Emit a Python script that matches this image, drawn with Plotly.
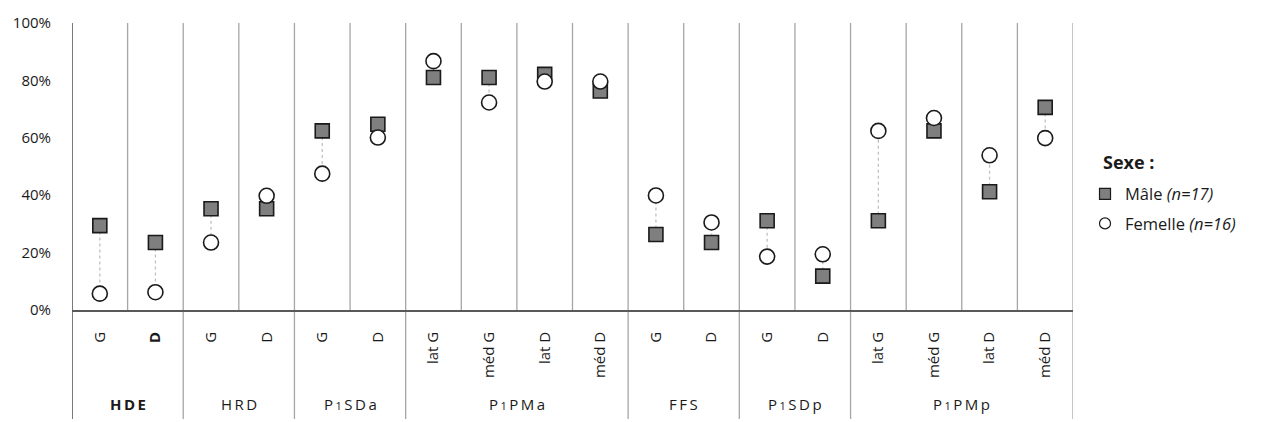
import plotly.graph_objects as go

# ---- data ----
groups = ["HDE", "HDE", "HRD", "HRD", "P1SDa", "P1SDa",
          "P1PMa", "P1PMa", "P1PMa", "P1PMa",
          "FFS", "FFS", "P1SDp", "P1SDp",
          "P1PMp", "P1PMp", "P1PMp", "P1PMp"]
sub_labels = ["G", "<b>D</b>", "G", "D", "G", "D",
              "lat G", "méd G", "lat D", "méd D",
              "G", "D", "G", "D",
              "lat G", "méd G", "lat D", "méd D"]
group_names = ["HDE", "HRD", "P1SDa", "P1PMa", "FFS", "P1SDp", "P1PMp"]
group_display = {
    "HDE": "<b>H\u2009D\u2009E</b>",
    "HRD": "H\u2009R\u2009D",
    "P1SDa": "P\u2009<span style='font-size:11px'>1</span>\u2009S\u2009D\u2009a",
    "P1PMa": "P\u2009<span style='font-size:11px'>1</span>\u2009P\u2009M\u2009a",
    "FFS": "F\u2009F\u2009S",
    "P1SDp": "P\u2009<span style='font-size:11px'>1</span>\u2009S\u2009D\u2009p",
    "P1PMp": "P\u2009<span style='font-size:11px'>1</span>\u2009P\u2009M\u2009p",
}
male = [29.4, 23.5, 35.3, 35.3, 62.4, 64.7,
        81.0, 81.0, 82.1, 76.3,
        26.3, 23.5, 31.1, 11.8,
        31.1, 62.4, 41.2, 70.6]
female = [5.7, 6.2, 23.5, 39.8, 47.5, 60.1,
          86.7, 72.3, 79.6, 79.6,
          39.9, 30.5, 18.6, 19.4,
          62.4, 66.9, 53.9, 59.9]
y_ticks = [0, 20, 40, 60, 80, 100]

# ---- figure ----
xs = list(range(len(sub_labels)))
AX = "#595959"
GRID = "#a6a6a6"
FONT = "Open Sans"
TXT = "#1a1a1a"

fig = go.Figure()

# dotted connectors
cx, cy = [], []
for i in xs:
    cx += [i, i, None]
    cy += [male[i], female[i], None]
fig.add_trace(go.Scatter(x=cx, y=cy, mode="lines", showlegend=False,
                         line=dict(color="#c0c0c0", width=1.3, dash="dot"),
                         hoverinfo="skip"))

fig.add_trace(go.Scatter(x=xs, y=male, mode="markers", showlegend=False,
                         marker=dict(symbol="square", size=14, color="#7f7f7f",
                                     line=dict(color=TXT, width=1.6))))
fig.add_trace(go.Scatter(x=xs, y=female, mode="markers", showlegend=False,
                         marker=dict(symbol="circle", size=15, color="white",
                                     line=dict(color=TXT, width=1.6))))

# legend entries
fig.add_trace(go.Scatter(x=[None], y=[None], mode="markers", name="Mâle <i>(n=17)</i>",
                         legendgroup="m",
                         marker=dict(symbol="square", size=11, color="#7f7f7f",
                                     line=dict(color=TXT, width=1.2))))
fig.add_trace(go.Scatter(x=[None], y=[None], mode="markers", name="Femelle <i>(n=16)</i>",
                         legendgroup="f",
                         marker=dict(symbol="circle", size=11, color="white",
                                     line=dict(color=TXT, width=1.2))))

shapes = []
n = len(xs)
bottom = -112 / 295
# column separators
for k in range(n + 1):
    xb = k - 0.5
    is_group_edge = (k == 0 or k == n or groups[k] != groups[k - 1])
    y0 = bottom if is_group_edge else 0
    color = AX if k == 0 else GRID
    shapes.append(dict(type="line", xref="x", yref="paper", x0=xb, x1=xb,
                       y0=y0, y1=1, line=dict(color=color, width=1.6 if k == 0 else 1.3),
                       layer="below"))

annotations = []
for g in group_names:
    idx = [i for i in xs if groups[i] == g]
    cxg = (idx[0] + idx[-1]) / 2
    annotations.append(dict(x=cxg, y=-97 / 295, xref="x", yref="paper",
                            text=group_display[g], showarrow=False,
                            font=dict(family=FONT, size=15, color=TXT),
                            yanchor="middle"))

annotations.append(dict(x=1.028, y=(310 - 158) / 295, xref="paper", yref="paper",
                        text="<b>Sexe :</b>", showarrow=False, xanchor="left",
                        yanchor="middle", font=dict(family=FONT, size=18, color=TXT)))

fig.update_layout(
    width=1263, height=422,
    margin=dict(l=72, r=190, t=15, b=112),
    plot_bgcolor="white", paper_bgcolor="white",
    font=dict(family=FONT, color=TXT),
    shapes=shapes, annotations=annotations,
    showlegend=True,
    legend=dict(x=1.012, y=(310 - 173) / 295, xanchor="left", yanchor="top",
                font=dict(family=FONT, size=16.5, color=TXT),
                tracegroupgap=5, itemsizing="trace", bgcolor="rgba(0,0,0,0)"),
    xaxis=dict(range=[-0.5, n - 0.5], tickmode="array", tickvals=xs,
               ticktext=sub_labels, tickangle=-90, showgrid=False, zeroline=False,
               showline=True, linecolor=AX, linewidth=1.6,
               tickfont=dict(family=FONT, size=15, color=TXT),
               ticks="", ticklabelstandoff=14, fixedrange=True),
    yaxis=dict(range=[0, 100], tickmode="array", tickvals=y_ticks,
               ticktext=[f"{v}%" for v in y_ticks], showgrid=False, zeroline=False,
               showline=False, ticks="", ticklabelstandoff=20,
               tickfont=dict(family=FONT, size=15, color=TXT), fixedrange=True),
)

fig.write_html("out.html", config={"displayModeBar": False},
               post_script="document.body.style.margin='0';document.body.style.padding='0';")
